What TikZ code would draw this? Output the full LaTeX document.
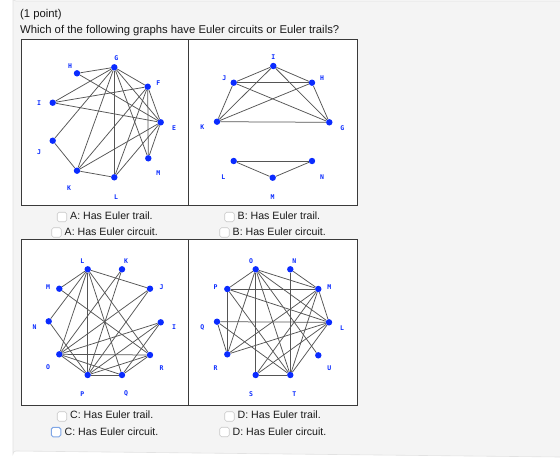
\documentclass[tikz,border=0pt]{standalone}
\usepackage{fontspec}
\setmainfont{Liberation Sans}
\newfontfamily\lblfont{DejaVu Sans Mono}
\pgfdeclarelayer{back}
\pgfdeclarelayer{edges}
\pgfsetlayers{back,edges,main}
\definecolor{panel}{HTML}{F4F4F4}
\definecolor{panelline}{HTML}{E2E2E2}
\definecolor{vblue}{HTML}{0A2BFF}
\definecolor{edgegray}{HTML}{555555}
\definecolor{boxline}{HTML}{3A3A3A}
\definecolor{cbline}{HTML}{C8C8C8}
\definecolor{cbfocus}{HTML}{7FA6E6}
\tikzset{
  vtx/.style={circle,fill=vblue,inner sep=0pt,minimum size=6.4pt},
  lbl/.style={text=vblue,font=\lblfont\bfseries\fontsize{6.5}{7}\selectfont,inner sep=0pt},
  edge/.style={draw=edgegray,line width=0.75pt},
  gbox/.style={draw=boxline,line width=1.1pt,fill=white},
  cbox/.style={draw=cbline,fill=white,rounded corners=1.8pt,line width=0.6pt,minimum size=9.5pt,inner sep=0pt},
  txt/.style={font=\fontsize{10.6}{12}\selectfont,inner sep=0pt,anchor=west,text=black!90},
  ttl/.style={font=\fontsize{11.3}{13}\selectfont,inner sep=0pt,anchor=west,text=black!90}
}
\begin{document}
\begin{tikzpicture}[x=1pt,y=-1pt]
\useasboundingbox (0,0) rectangle (560,459);
\begin{pgfonlayer}{back}
\fill[white] (0,0) rectangle (560,459);
\fill[panel] (560,1) -- (16,1) arc[start angle=90,end angle=180,radius=3] -- (13,454) arc[start angle=180,end angle=270,radius=3] -- (560,457) -- cycle;
\draw[panelline,line width=0.6pt] (560,1) -- (16,1) arc[start angle=90,end angle=180,radius=3] -- (13,454) arc[start angle=180,end angle=270,radius=3] -- (560,457);
\node[gbox,minimum width=167pt,minimum height=166pt,anchor=north west] (boxA) at (21,39) {};
\node[gbox,minimum width=169pt,minimum height=166pt,anchor=north west] (boxB) at (188,39) {};
\node[gbox,minimum width=167pt,minimum height=166pt,anchor=north west] (boxC) at (21,239) {};
\node[gbox,minimum width=169pt,minimum height=166pt,anchor=north west] (boxD) at (188,239) {};
\end{pgfonlayer}

\node[ttl] (t1) at (20,15) {(1 point)};
\node[ttl] (t2) at (20,30.5) {Which of the following graphs have Euler circuits or Euler trails?};

% ---------- Graph A ----------
\foreach \n/\x/\y/\lx/\ly in {G/114.3/67.3/116.3/58.3, H/77/73.3/70/66, F/147.7/86.7/158.3/82.7,
  I/52.7/102.7/39/102.7, E/160.7/122.3/174/128.3, J/52.7/140.7/39/151.7,
  M/148.3/158.3/158.3/173.3, K/77/170.7/69/188.3, L/114.3/177.3/116/196.7}{
  \node[vtx] (A\n) at (\x,\y) {};
  \node[lbl] (lA\n) at (\lx,\ly) {\n};
}
\begin{pgfonlayer}{edges}
\foreach \a/\b in {G/H,G/I,G/J,G/K,G/L,G/F,G/E,G/M,H/E,I/F,I/E,J/K,K/L,K/F,K/E,L/F,L/E,F/M,F/E,E/M}{
  \draw[edge] (A\a) -- (A\b);
}
\end{pgfonlayer}

% ---------- Graph B ----------
\foreach \n/\x/\y/\lx/\ly in {I/273.3/66/273.3/56.7, J/233.7/82.7/224.3/78.3, H/312/82.7/322/78.3,
  K/217/121.7/202.3/127.3, G/329.3/122.3/342.3/128, L/233.7/161/223.3/176.7,
  N/312/161/322/176.7, M/272.7/177.7/272.7/196.7}{
  \node[vtx] (B\n) at (\x,\y) {};
  \node[lbl] (lB\n) at (\lx,\ly) {\n};
}
\begin{pgfonlayer}{edges}
\foreach \a/\b in {I/J,I/H,I/K,I/G,J/H,J/K,J/G,H/K,H/G,K/G,L/N,L/M,M/N}{
  \draw[edge] (B\a) -- (B\b);
}
\end{pgfonlayer}

% ---------- Graph C ----------
\foreach \n/\x/\y/\lx/\ly in {L/87.7/269.3/82.3/260.7, K/122/269.3/126/260.7, M/59.3/288.7/48/286.7,
  J/150/288.7/161.7/286.7, N/48.7/321.3/34.7/327.3, I/160.7/322.3/174/327.3,
  O/59.3/354.3/48/367.3, R/150/355/161.7/368.3, P/87.7/375/82.3/394, Q/122/375/126/394}{
  \node[vtx] (C\n) at (\x,\y) {};
  \node[lbl] (lC\n) at (\lx,\ly) {\n};
}
\begin{pgfonlayer}{edges}
\foreach \a/\b in {L/M,L/J,L/O,L/P,L/Q,L/R,L/N,K/O,K/P,J/O,J/P,I/O,I/P,I/Q,M/R,N/P,O/R,O/P,P/Q,Q/R,O/Q,P/R}{
  \draw[edge] (C\a) -- (C\b);
}
\end{pgfonlayer}

% ---------- Graph D ----------
\foreach \n/\x/\y/\lx/\ly in {O/255.7/269.3/251/260.7, N/290.3/269.3/294.3/260.7, P/227.3/289/215.7/286.7,
  M/318.3/289/329.3/286.7, Q/217/321.7/202.3/327.3, L/329/322.3/342/328,
  R/227.3/354.3/215.7/368.3, U/318.3/355.3/329.3/368.3, S/255.7/375/251/394, T/290.3/375/294.3/394}{
  \node[vtx] (D\n) at (\x,\y) {};
  \node[lbl] (lD\n) at (\lx,\ly) {\n};
}
\begin{pgfonlayer}{edges}
\foreach \a/\b in {N/T,N/M,O/P,O/M,O/L,O/S,O/T,O/R,O/U,P/M,P/R,P/L,P/T,Q/L,Q/R,Q/T,R/M,R/L,S/T,S/M,S/L,T/M,T/L,M/L}{
  \draw[edge] (D\a) -- (D\b);
}
\end{pgfonlayer}

% ---------- answers ----------
\node[cbox] (cA1) at (62,217) {};
\node[txt] (aA1) at (70,215.5) {A: Has Euler trail.};
\node[cbox] (cA2) at (56.5,232.5) {};
\node[txt] (aA2) at (64.5,231.5) {A: Has Euler circuit.};
\node[cbox] (cB1) at (229.5,217) {};
\node[txt] (aB1) at (237.5,215.5) {B: Has Euler trail.};
\node[cbox] (cB2) at (224.5,232.5) {};
\node[txt] (aB2) at (232.5,231.5) {B: Has Euler circuit.};
\node[cbox] (cC1) at (62,416.5) {};
\node[txt] (aC1) at (70,415) {C: Has Euler trail.};
\node[cbox,draw=cbfocus,line width=1pt] (cC2) at (56,432) {};
\node[txt] (aC2) at (64.5,431.5) {C: Has Euler circuit.};
\node[cbox] (cD1) at (229.5,416.5) {};
\node[txt] (aD1) at (237.5,415) {D: Has Euler trail.};
\node[cbox] (cD2) at (224.5,432) {};
\node[txt] (aD2) at (232.5,431.5) {D: Has Euler circuit.};
\end{tikzpicture}
\end{document}
